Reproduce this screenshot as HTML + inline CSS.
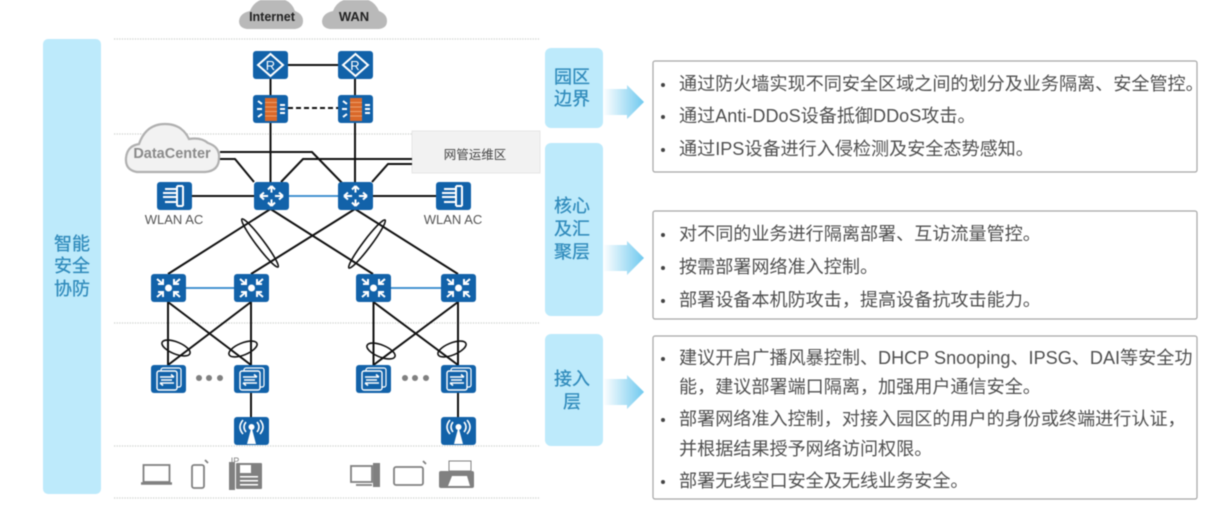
<!DOCTYPE html>
<html lang="zh"><head><meta charset="utf-8"><title>安全协防</title>
<style>
html,body{margin:0;padding:0;background:#fff;width:1214px;height:520px;overflow:hidden}
svg{display:block;filter:blur(.5px)}
text{font-family:"Liberation Sans","Noto Sans CJK SC",sans-serif}
.t{font-size:18.1px;fill:#4f4f4f}
.b{font-size:18px;fill:#2f8abb;text-anchor:middle;stroke:#2f8abb;stroke-width:.25}
.l{stroke:#111;stroke-width:2;fill:none}
.d{stroke:#cfd2cf;stroke-width:1.3;stroke-dasharray:1.3 1.3;fill:none}
.e{stroke:#111;stroke-width:1.6;fill:none}
.w{stroke:#fff;stroke-width:2;fill:none}
.g{stroke:#808080;stroke-width:1.8;fill:none}
.card{fill:#fff;stroke:#a6a6a6;stroke-width:1.2}
.panel{fill:#bdeafb}
</style></head><body>
<svg width="1214" height="520" viewBox="0 0 1214 520" xmlns="http://www.w3.org/2000/svg">
<defs>
<linearGradient id="ag" x1="0" x2="1" y1="0" y2="0"><stop offset="0" stop-color="#fff"/><stop offset="1" stop-color="#6fc9ef"/></linearGradient>
<symbol id="arrow" width="42" height="34" viewBox="0 0 42 34"><path d="M0 4H24V0L41 17 24 34V30H0Z" fill="url(#ag)"/></symbol>
<symbol id="router" width="35" height="28" viewBox="0 0 35 28"><rect width="35" height="28" rx="3" fill="#1262a9"/><path d="M17.5 3 30 14 17.5 25 5 14Z" class="w"/></symbol>
<symbol id="fw" width="35" height="28" viewBox="0 0 35 28"><rect width="35" height="28" rx="3" fill="#1262a9"/><rect x="12" y="3" width="12" height="23" fill="#d9682a"/><path d="M12 7.500h12M12 12h12M12 16.500h12M12 21h12" stroke="#f4b183" stroke-width=".8"/><path d="M5 6l4 3M4 14h5M5 22l4-3M27 10h5M27 14h5M27 18h5" class="w"/></symbol>
<symbol id="core" width="35" height="28" viewBox="0 0 35 28"><rect width="35" height="28" rx="3" fill="#1262a9"/><path d="M6 14H29M17.500 4V24M6 14l4-3.500M6 14l4 3.500M29 14l-4-3.500M29 14l-4 3.500M17.500 4l-3.500 3.500M17.500 4l3.500 3.500M17.500 24l-3.500-3.500M17.500 24l3.500-3.500" class="w"/><circle cx="17.500" cy="14" r="3.500" fill="#1262a9"/></symbol>
<symbol id="ac" width="35" height="28" viewBox="0 0 35 28"><rect width="35" height="28" rx="3" fill="#1262a9"/><path d="M8 7H20M6 11H20M6 15H20M8 20H20M20 4V24M26 4V24M20 4H26M20 24H26" class="w"/></symbol>
<symbol id="agg" width="35" height="28" viewBox="0 0 35 28"><rect width="35" height="28" rx="3" fill="#1262a9"/><circle cx="17.500" cy="14" r="3.500" fill="#fff"/><path d="M6 5l6 5M12 5v5H7M29 5l-6 5M23 5v5h5M6 23l6-5M12 23v-5H7M29 23l-6-5M23 23v-5h5" class="w"/></symbol>
<symbol id="acc" width="35" height="28" viewBox="0 0 35 28"><rect width="35" height="28" rx="3" fill="#1262a9"/><rect x="10" y="3" width="20" height="19" rx="2" fill="none" stroke="#fff" stroke-width="1.200"/><rect x="6" y="6" width="20" height="19" rx="2" fill="#1262a9" stroke="#fff" stroke-width="1.400"/><path d="M9 12H23M23 12l-3-2.500M9 18H23M9 18l3 2.500M10 15H21" class="w" style="stroke-width:1.600"/></symbol>
<symbol id="ap" width="35" height="28" viewBox="0 0 35 28"><rect width="35" height="28" rx="3" fill="#1262a9"/><path d="M13 27 17.500 10 22 27Z" fill="#fff"/><circle cx="17.500" cy="10" r="3" fill="#fff"/><path d="M12 5Q8 10 12 15M9 3Q3 10 9 17M23 5Q27 10 23 15M26 3Q32 10 26 17" class="w" style="stroke-width:1.600"/></symbol>
</defs>

<!-- left panel -->
<rect x="43" y="39" width="58" height="455" rx="5" class="panel"/>
<text class="b" x="72" y="250">智能</text><text class="b" x="72" y="272">安全</text><text class="b" x="72" y="295">协防</text>

<!-- dotted layer lines -->
<path class="d" d="M114 39H540M114 134H412M114 323H540M114 446H540M114 498H540"/>

<!-- Clouds top -->
<path d="M247 29Q239 28 239 21 240 13 250 11 255 -2 272 -2 290 -3 295 11 303 14 303 21 303 28 295 29Z" fill="#b9b9b9"/>
<text x="272" y="21" font-size="12.500" font-weight="700" fill="#222" text-anchor="middle">Internet</text>
<path d="M330 29Q322 28 322 21 323 13 333 11 338 -2 355 -2 373 -3 379 11 387 14 387 21 387 28 379 29Z" fill="#b9b9b9"/>
<text x="354" y="21" font-size="13" font-weight="700" fill="#222" text-anchor="middle">WAN</text>

<!-- gray box -->
<rect x="412" y="131" width="128" height="42" fill="#f2f2f2" stroke="#e6e6e6"/>
<text x="475" y="159" font-size="12.500" fill="#444" text-anchor="middle">网管运维区</text>

<!-- connectors -->
<path class="l" d="M270.500 65H355M270.500 79V182M355 79V182M220 152H312L345 186M220 159H235L254 182M412 159H303L281 182M412 164H388L372 182M191 196H254M372 196H436"/>
<path class="l" d="M288 108H338" stroke-dasharray="5 3"/>
<path d="M288 196H338M185 288H234M391 288H441" stroke="#2f86cc" stroke-width="1.800"/>
<path class="l" d="M270.500 209 168 274M270.500 209 373 274M355 209 251 274M355 209 458 274"/>
<path class="l" d="M168 302V365M251 302V365M168 302 251 365M251 302 168 365M373.500 302V365M458 302V365M373.500 302 458 365M458 302 373.500 365M251 393V417M458 393V417"/>

<!-- bundle ellipses -->
<ellipse class="e" cx="260" cy="243" rx="30" ry="4" transform="rotate(53 260 243)"/>
<ellipse class="e" cx="367" cy="244" rx="30" ry="4" transform="rotate(-53 367 244)"/>
<ellipse class="e" cx="176" cy="348" rx="15" ry="6" transform="rotate(22 176 348)"/>
<ellipse class="e" cx="243" cy="349" rx="15" ry="6" transform="rotate(-22 243 349)"/>
<ellipse class="e" cx="381" cy="351" rx="15" ry="6" transform="rotate(22 381 351)"/>
<ellipse class="e" cx="452" cy="349" rx="15" ry="6" transform="rotate(-22 452 349)"/>

<!-- DataCenter cloud -->
<path d="M137 172Q125 170 126 158 127 146 139 144 146 124 165 124 182 124 189 139 201 137 208 143 220 147 219 158 219 171 205 172Z" fill="#f2f2f2" stroke="#b0b0b0" stroke-width="2.200"/>
<text x="172" y="158" font-size="14.500" font-weight="700" fill="#8a8a8a" text-anchor="middle">DataCenter</text>

<!-- devices -->
<use href="#router" x="253" y="51"/><use href="#router" x="338" y="51"/>
<text x="270.500" y="70" font-size="13" fill="#fff" text-anchor="middle">R</text>
<text x="355" y="70" font-size="13" fill="#fff" text-anchor="middle">R</text>
<use href="#fw" x="253" y="95"/><use href="#fw" x="338" y="95"/>
<use href="#ac" x="157" y="182"/><use href="#ac" x="436" y="182"/>
<use href="#core" x="254" y="182"/><use href="#core" x="338" y="182"/>
<text x="174" y="224" font-size="13" fill="#555" text-anchor="middle">WLAN AC</text>
<text x="453" y="224" font-size="13" fill="#555" text-anchor="middle">WLAN AC</text>
<use href="#agg" x="151" y="274"/><use href="#agg" x="234" y="274"/><use href="#agg" x="356" y="274"/><use href="#agg" x="441" y="274"/>
<use href="#acc" x="151" y="365"/><use href="#acc" x="234" y="365"/><use href="#acc" x="356" y="365"/><use href="#acc" x="441" y="365"/>
<use href="#ap" x="234" y="417"/><use href="#ap" x="441" y="417"/>
<g fill="#808080"><circle cx="199" cy="378" r="3"/><circle cx="209" cy="378" r="3"/><circle cx="220" cy="378" r="3"/><circle cx="405" cy="378" r="3"/><circle cx="415" cy="378" r="3"/><circle cx="426" cy="378" r="3"/></g>

<!-- end devices -->
<rect x="143.500" y="465" width="26" height="17" class="g"/><path d="M141 483.500H172" stroke="#808080" stroke-width="2.500"/>
<rect x="192" y="465" width="12" height="23" rx="2" class="g"/><path d="M205 460l3 3" class="g"/>
<rect x="229" y="462" width="6" height="28" fill="#808080"/><rect x="236" y="463" width="26" height="26" rx="1" fill="#808080"/><rect x="240" y="465" width="11" height="8" fill="#fff"/><g fill="#fff"><rect x="240" y="476" width="18" height="1.500"/><rect x="240" y="480" width="18" height="1.500"/><rect x="240" y="484" width="18" height="1.500"/></g>
<text x="235" y="464" font-size="9" fill="#808080" text-anchor="middle">IP</text>
<rect x="351" y="466" width="21" height="16" class="g"/><rect x="373" y="463" width="7" height="24" fill="#808080"/><path d="M356 485H372" class="g"/>
<rect x="394" y="467" width="29" height="18" rx="2" class="g"/><path d="M423 461l3 3" class="g"/>
<rect x="449" y="461" width="22" height="10" fill="#fff" stroke="#808080"/><rect x="439" y="471" width="35" height="17" rx="2" fill="#808080"/><path d="M448 486 452 476H467L470 486Z" fill="#fff"/>

<!-- category blocks -->
<rect x="545" y="48" width="58" height="80" rx="6" class="panel"/>
<text class="b" x="572" y="83">园区</text><text class="b" x="572" y="105">边界</text>
<rect x="545" y="143" width="58" height="173" rx="6" class="panel"/>
<text class="b" x="572" y="212">核心</text><text class="b" x="572" y="235">及汇</text><text class="b" x="572" y="258">聚层</text>
<rect x="545" y="334" width="58" height="112" rx="6" class="panel"/>
<text class="b" x="572" y="385">接入</text><text class="b" x="572" y="408">层</text>

<use href="#arrow" x="603" y="85"/><use href="#arrow" x="603" y="241"/><use href="#arrow" x="603" y="375"/>

<!-- text cards -->
<rect x="653" y="61" width="544" height="111" rx="2" class="card"/>
<rect x="653" y="211" width="544" height="108" rx="2" class="card"/>
<rect x="653" y="336" width="544" height="163" rx="2" class="card"/>
<g fill="#444"><circle cx="663" cy="85" r="2"/><circle cx="663" cy="117" r="2"/><circle cx="663" cy="150" r="2"/><circle cx="663" cy="235" r="2"/><circle cx="663" cy="268" r="2"/><circle cx="663" cy="301" r="2"/><circle cx="663" cy="359" r="2"/><circle cx="663" cy="420" r="2"/><circle cx="663" cy="482" r="2"/></g>
<text class="t" x="679" y="90">通过防火墙实现不同安全区域之间的划分及业务隔离、安全管控。</text>
<text class="t" x="679" y="122">通过Anti-DDoS设备抵御DDoS攻击。</text>
<text class="t" x="679" y="155">通过IPS设备进行入侵检测及安全态势感知。</text>
<text class="t" x="679" y="240">对不同的业务进行隔离部署、互访流量管控。</text>
<text class="t" x="679" y="273">按需部署网络准入控制。</text>
<text class="t" x="679" y="306">部署设备本机防攻击，提高设备抗攻击能力。</text>
<text class="t" x="679" y="364">建议开启广播风暴控制、DHCP Snooping、IPSG、DAI等安全功</text>
<text class="t" x="679" y="393">能，建议部署端口隔离，加强用户通信安全。</text>
<text class="t" x="679" y="425">部署网络准入控制，对接入园区的用户的身份或终端进行认证，</text>
<text class="t" x="679" y="455">并根据结果授予网络访问权限。</text>
<text class="t" x="679" y="487">部署无线空口安全及无线业务安全。</text>
</svg>
</body></html>
